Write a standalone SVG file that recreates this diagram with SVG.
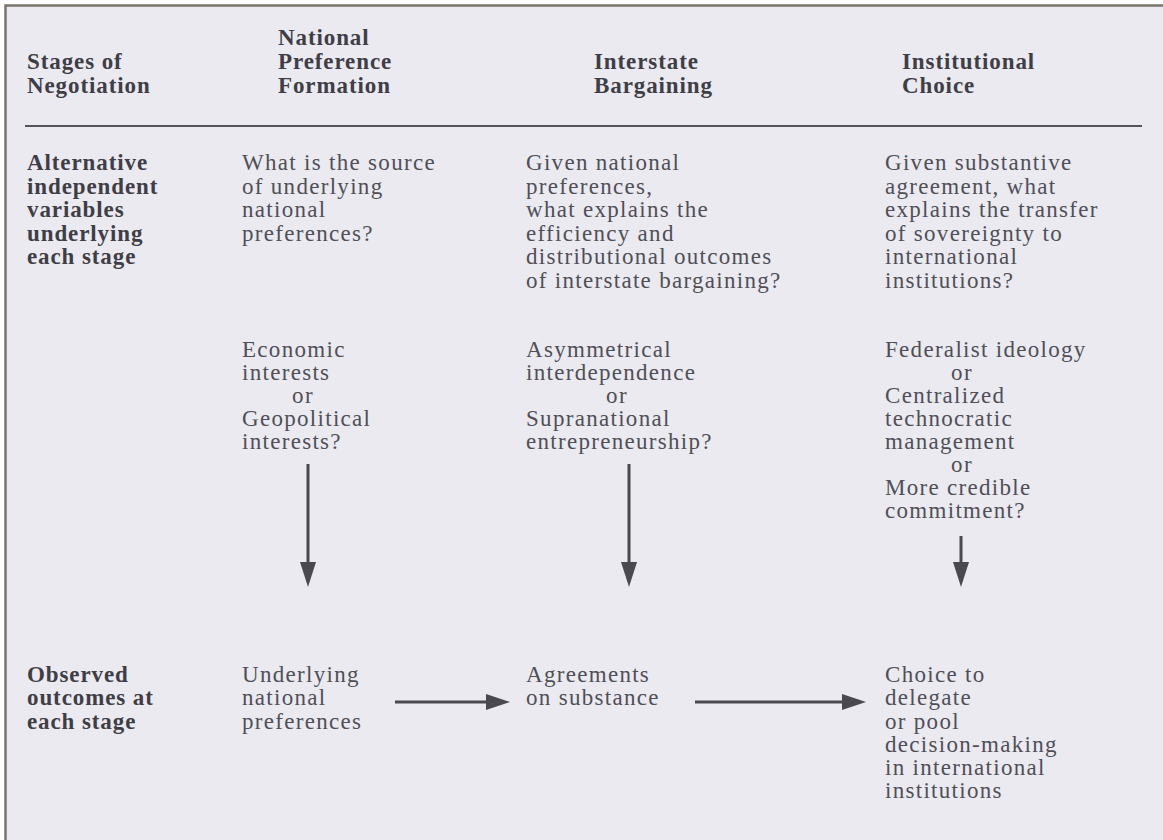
<svg xmlns="http://www.w3.org/2000/svg" width="1163" height="840" viewBox="0 0 1163 840">
<style>
.t{font-family:"Liberation Serif","Times New Roman",serif;font-size:23px;letter-spacing:1.3px;fill:#504f57}
.b{font-family:"Liberation Serif","Times New Roman",serif;font-size:23px;font-weight:bold;letter-spacing:0.9px;fill:#3f3e46}
.c{text-anchor:middle}
.ln{stroke:#4a4950;stroke-width:3;fill:none}
.hd{fill:#4a4950}
</style>
<rect x="0" y="0" width="1163" height="840" fill="#ffffff"/>
<rect x="5" y="5" width="1158" height="835" fill="#eaeaf0"/>
<path d="M5.5 840 V5.5 H1163" fill="none" stroke="#7b766c" stroke-width="2.5"/>
<line x1="25" y1="126" x2="1142" y2="126" stroke="#555459" stroke-width="2"/>

<g id="header-stages">
<text class="b" x="27" y="69">Stages of</text>
<text class="b" x="27" y="93">Negotiation</text>
</g>
<g id="header-npf">
<text class="b" x="278" y="45">National</text>
<text class="b" x="278" y="69">Preference</text>
<text class="b" x="278" y="93">Formation</text>
</g>
<g id="header-ib">
<text class="b" x="594" y="69">Interstate</text>
<text class="b" x="594" y="93">Bargaining</text>
</g>
<g id="header-ic">
<text class="b" x="902" y="69">Institutional</text>
<text class="b" x="902" y="93">Choice</text>
</g>

<g id="row-alternative">
<text class="b" x="27" y="170">Alternative</text>
<text class="b" x="27" y="193.5">independent</text>
<text class="b" x="27" y="217">variables</text>
<text class="b" x="27" y="240.5">underlying</text>
<text class="b" x="27" y="264">each stage</text>
</g>
<g id="q-npf">
<text class="t" x="242" y="170">What is the source</text>
<text class="t" x="242" y="193.5">of underlying</text>
<text class="t" x="242" y="217">national</text>
<text class="t" x="242" y="240.5">preferences?</text>
</g>
<g id="q-ib">
<text class="t" x="526" y="170">Given national</text>
<text class="t" x="526" y="193.5">preferences,</text>
<text class="t" x="526" y="217">what explains the</text>
<text class="t" x="526" y="240.5">efficiency and</text>
<text class="t" x="526" y="264">distributional outcomes</text>
<text class="t" x="526" y="287.5">of interstate bargaining?</text>
</g>
<g id="q-ic">
<text class="t" x="885" y="170">Given substantive</text>
<text class="t" x="885" y="193.5">agreement, what</text>
<text class="t" x="885" y="217">explains the transfer</text>
<text class="t" x="885" y="240.5">of sovereignty to</text>
<text class="t" x="885" y="264">international</text>
<text class="t" x="885" y="287.5">institutions?</text>
</g>

<g id="var-npf">
<text class="t" x="242" y="357">Economic</text>
<text class="t" x="242" y="380">interests</text>
<text class="t c" x="303" y="403">or</text>
<text class="t" x="242" y="426">Geopolitical</text>
<text class="t" x="242" y="449">interests?</text>
</g>
<g id="var-ib">
<text class="t" x="526" y="357">Asymmetrical</text>
<text class="t" x="526" y="380">interdependence</text>
<text class="t c" x="617" y="403">or</text>
<text class="t" x="526" y="426">Supranational</text>
<text class="t" x="526" y="449">entrepreneurship?</text>
</g>
<g id="var-ic">
<text class="t" x="885" y="357">Federalist ideology</text>
<text class="t c" x="962" y="380">or</text>
<text class="t" x="885" y="403">Centralized</text>
<text class="t" x="885" y="426">technocratic</text>
<text class="t" x="885" y="449">management</text>
<text class="t c" x="962" y="472">or</text>
<text class="t" x="885" y="495">More credible</text>
<text class="t" x="885" y="518">commitment?</text>
</g>

<g id="row-observed">
<text class="b" x="27" y="682">Observed</text>
<text class="b" x="27" y="705">outcomes at</text>
<text class="b" x="27" y="729">each stage</text>
</g>
<g id="out-npf">
<text class="t" x="242" y="682">Underlying</text>
<text class="t" x="242" y="705">national</text>
<text class="t" x="242" y="729">preferences</text>
</g>
<g id="out-ib">
<text class="t" x="526" y="682">Agreements</text>
<text class="t" x="526" y="705">on substance</text>
</g>
<g id="out-ic">
<text class="t" x="885" y="682">Choice to</text>
<text class="t" x="885" y="705">delegate</text>
<text class="t" x="885" y="729">or pool</text>
<text class="t" x="885" y="752">decision-making</text>
<text class="t" x="885" y="775">in international</text>
<text class="t" x="885" y="798">institutions</text>
</g>

<g id="connectors">
<line class="ln" x1="308" y1="464" x2="308" y2="566"/>
<polygon class="hd" points="300,562 316,562 308,587"/>
<line class="ln" x1="629" y1="464" x2="629" y2="566"/>
<polygon class="hd" points="621,562 637,562 629,587"/>
<line class="ln" x1="961" y1="536" x2="961" y2="566"/>
<polygon class="hd" points="953,562 969,562 961,587"/>
<line class="ln" x1="395" y1="702" x2="490" y2="702"/>
<polygon class="hd" points="486,694 486,710 510,702"/>
<line class="ln" x1="695" y1="702" x2="846" y2="702"/>
<polygon class="hd" points="842,694 842,710 866,702"/>
</g>
</svg>
